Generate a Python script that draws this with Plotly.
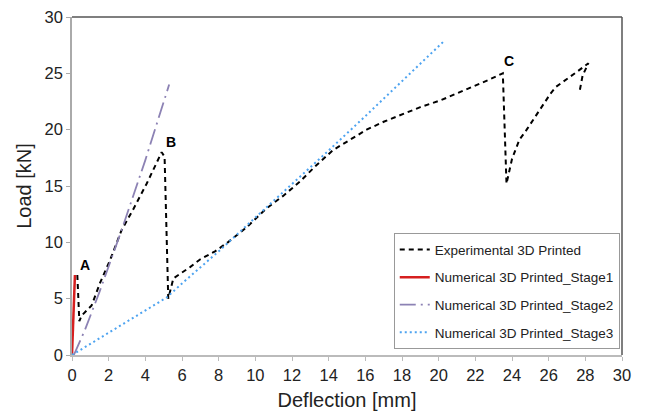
import plotly.graph_objects as go

# Experimental 3D printed
exp_x = [0.29, 0.40, 0.53, 1.07, 1.53, 2.07, 2.71, 3.33, 4.07, 4.89, 5.05, 5.25, 5.53, 6.44, 7.0, 7.8,
         8.5, 9.5, 10.6, 11.5, 12.44, 13.3, 14.25, 15.2, 16.07, 17.0, 17.9, 19.0, 20.1, 21.0, 21.9,
         22.7, 23.5, 23.62, 23.7, 24.0, 24.4, 24.8, 25.35, 26.1, 26.4, 27.2, 27.6, 28.17, 27.85, 27.7]
exp_y = [7.1, 3.0, 3.5, 4.4, 6.4, 8.4, 11.1, 12.9, 15.2, 18.0, 17.6, 5.0, 6.8, 7.8, 8.5, 9.2,
         10.0, 11.3, 13.0, 14.1, 15.4, 16.8, 18.2, 19.1, 20.0, 20.7, 21.3, 22.0, 22.6, 23.2, 23.8,
         24.4, 25.0, 20.0, 15.2, 17.4, 19.1, 20.0, 21.4, 23.2, 23.8, 24.7, 25.2, 25.9, 24.8, 23.5]

# Numerical stage 1
s1_x = [0.0, 0.16]
s1_y = [0.0, 7.1]

# Numerical stage 2
s2_x = [0.1, 0.7, 1.5, 2.71, 4.0, 5.3]
s2_y = [0.0, 2.2, 5.6, 11.1, 17.3, 24.0]

# Numerical stage 3
s3_x = [0.0, 2.0, 4.0, 5.16, 6.0, 8.07, 10.0, 12.44, 13.9, 16.0, 18.0, 20.35]
s3_y = [0.0, 1.95, 3.9, 5.1, 6.35, 9.3, 12.2, 15.8, 18.0, 21.2, 24.3, 27.95]

x_ticks = list(range(0, 31, 2))
y_ticks = list(range(0, 31, 5))

labels = ["A", "B", "C"]
label_x = [0.72, 5.4, 23.85]
label_y = [7.95, 18.9, 26.1]

fig = go.Figure()
fig.add_trace(go.Scatter(x=exp_x, y=exp_y, mode="lines", name="Experimental 3D Printed",
                         legendgroup="a",
                         line=dict(color="black", width=2, dash="5px,4px")))
fig.add_trace(go.Scatter(x=s1_x, y=s1_y, mode="lines", name="Numerical 3D Printed_Stage1",
                         legendgroup="b",
                         line=dict(color="#d61f1f", width=2.5)))
fig.add_trace(go.Scatter(x=s2_x, y=s2_y, mode="lines", name="Numerical 3D Printed_Stage2",
                         legendgroup="c",
                         line=dict(color="#8c82b4", width=1.8, dash="16px,5px,2px,5px")))
fig.add_trace(go.Scatter(x=s3_x, y=s3_y, mode="lines", name="Numerical 3D Printed_Stage3",
                         legendgroup="d",
                         line=dict(color="#4da3f0", width=2, dash="2px,3px")))

for t, xx, yy in zip(labels, label_x, label_y):
    fig.add_annotation(x=xx, y=yy, text="<b>%s</b>" % t, showarrow=False,
                       font=dict(family="Liberation Sans, Arial", size=14, color="black"))

fig.update_layout(
    width=646, height=411,
    margin=dict(l=72, r=24, t=17, b=56),
    paper_bgcolor="white", plot_bgcolor="white",
    font=dict(family="Liberation Sans, Arial", color="#222"),
    showlegend=True,
    legend=dict(x=0.585, y=0.36, xanchor="left", yanchor="top",
                bordercolor="#999", borderwidth=1, bgcolor="white",
                font=dict(size=13.5, color="#222"), traceorder="grouped",
                tracegroupgap=7),
    shapes=[
        dict(type="line", xref="paper", yref="paper", x0=0, x1=1, y0=1, y1=1,
             line=dict(color="#555", width=1.5)),
        dict(type="line", xref="paper", yref="paper", x0=1, x1=1, y0=0, y1=1,
             line=dict(color="#555", width=1.5)),
    ],
)
fig.update_xaxes(range=[0, 30], tickvals=x_ticks, showgrid=False, zeroline=False,
                 showline=True, linecolor="#bbb", linewidth=1.5,
                 ticks="outside", ticklen=4, tickcolor="#bbb", automargin=False,
                 tickfont=dict(size=16.5, color="#222"),
                 title=dict(text="Deflection [mm]", font=dict(size=20, color="#222"), standoff=10))
fig.update_yaxes(range=[0, 30], tickvals=y_ticks, showgrid=False, zeroline=False,
                 showline=True, linecolor="#aaa", linewidth=1.5,
                 ticks="outside", ticklen=4, tickcolor="#aaa", automargin=False,
                 tickfont=dict(size=16.5, color="#222"),
                 title=dict(text="Load [kN]", font=dict(size=20, color="#222"), standoff=8))

fig.write_html("out.html")
